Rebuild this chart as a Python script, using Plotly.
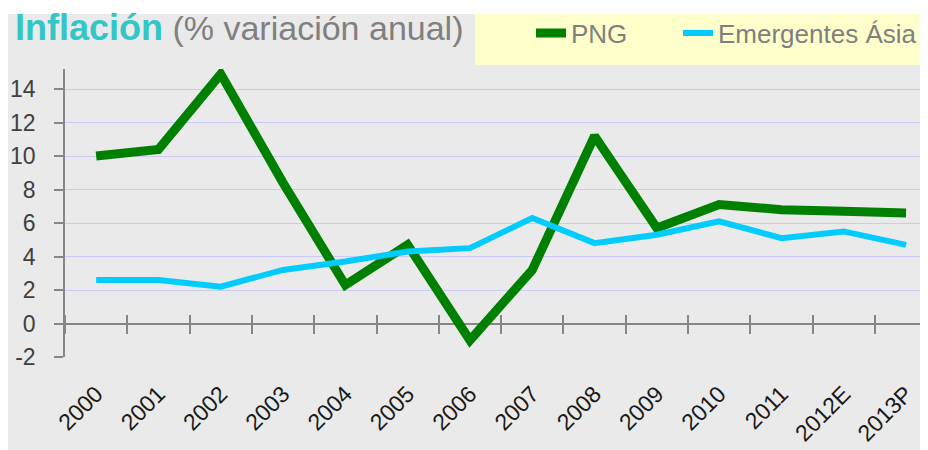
import plotly.graph_objects as go

years = ["2000", "2001", "2002", "2003", "2004", "2005", "2006", "2007",
         "2008", "2009", "2010", "2011", "2012E", "2013P"]
png = [10.0, 10.4, 14.9, 8.4, 2.3, 4.7, -1.0, 3.2, 11.2, 5.7, 7.1, 6.8, 6.7, 6.6]
asia = [2.6, 2.6, 2.2, 3.2, 3.7, 4.3, 4.5, 6.3, 4.8, 5.3, 6.1, 5.1, 5.5, 4.7]
ytickvals = [-2, 0, 2, 4, 6, 8, 10, 12, 14]
yticktext = ["-2", "0", "2", "4", "6", "8", "10", "12", "14"]

# the page places the figure 8px from the top-left corner of the window
W, H = 912, 442
ML, MR, MT, MB = 57, 0, 61, 93
PW, PH = W - ML - MR, H - MT - MB
YMIN, YMAX = -2, 15.2
CAT_PX = 62.3

def px_x(px):
    return (px - ML) / PW

def px_y(py):
    return (H - MB - py) / PH

fig = go.Figure()
fig.add_trace(go.Scatter(x=years, y=png, mode="lines", name="PNG", showlegend=True,
                         line=dict(color="#008000", width=9), legend="legend"))
fig.add_trace(go.Scatter(x=years, y=asia, mode="lines", name="Emergentes Ásia",
                         showlegend=True,
                         line=dict(color="#00CCFF", width=6), legend="legend2"))

axis_col = "#868686"
xpos = (0 - YMIN) / (YMAX - YMIN) + 9.5 / PH

fig.update_layout(
    width=W, height=H, autosize=False, showlegend=True,
    margin=dict(l=ML, r=MR, t=MT, b=MB),
    paper_bgcolor="#EAEAEA", plot_bgcolor="#EAEAEA",
    font=dict(family="Liberation Sans, Arial, sans-serif", color="#333333"),
    title=dict(
        text="<b><span style='color:#33C6C6;font-size:36px'>Inflación</span></b>"
             "<span style='color:#808080;font-size:34px'> (% variación anual)</span>",
        xref="container", x=7 / W, xanchor="left",
        yref="container", y=1 - 20 / H, yanchor="middle",
        font=dict(family="Liberation Sans, Arial, sans-serif", size=34),
    ),
    xaxis=dict(
        type="category", range=[-0.5, PW / CAT_PX - 0.5],
        anchor="free", position=xpos,
        showline=False, showgrid=False, zeroline=False,
        ticks="outside", tickson="boundaries", ticklen=19,
        tickcolor=axis_col, tickwidth=1.5,
        tickangle=-45, ticklabelstandoff=61,
        tickfont=dict(size=23, color="#1a1a1a"),
        automargin=False,
    ),
    yaxis=dict(
        range=[YMIN, YMAX], tickvals=ytickvals, ticktext=yticktext,
        showline=True, linecolor=axis_col, linewidth=1.5,
        ticks="outside", ticklen=9, tickcolor=axis_col, tickwidth=1.5,
        showgrid=True, gridcolor="#CACAF4", gridwidth=1,
        zeroline=True, zerolinecolor=axis_col, zerolinewidth=1.5,
        ticklabelstandoff=14,
        tickfont=dict(size=23, color="#404040"),
        automargin=False,
    ),
    legend=dict(
        orientation="h", xref="container", x=523 / W, xanchor="left",
        yref="container", y=1 - 25 / H, yanchor="middle",
        bgcolor="rgba(0,0,0,0)", font=dict(size=26, color="#7f7f7f"),
    ),
    legend2=dict(
        orientation="h", xref="container", x=670 / W, xanchor="left",
        yref="container", y=1 - 25 / H, yanchor="middle",
        bgcolor="rgba(0,0,0,0)", font=dict(size=26, color="#7f7f7f"),
    ),
    shapes=[
        dict(type="rect", xref="paper", yref="paper", layer="below",
             x0=px_x(0), x1=px_x(W), y0=px_y(6), y1=px_y(0),
             fillcolor="white", line=dict(width=0)),
        dict(type="rect", xref="paper", yref="paper", layer="below",
             x0=px_x(467), x1=px_x(W), y0=px_y(57), y1=px_y(6),
             fillcolor="#FFFFCC", line=dict(width=0)),
    ],
)

fig.write_html("out.html")
